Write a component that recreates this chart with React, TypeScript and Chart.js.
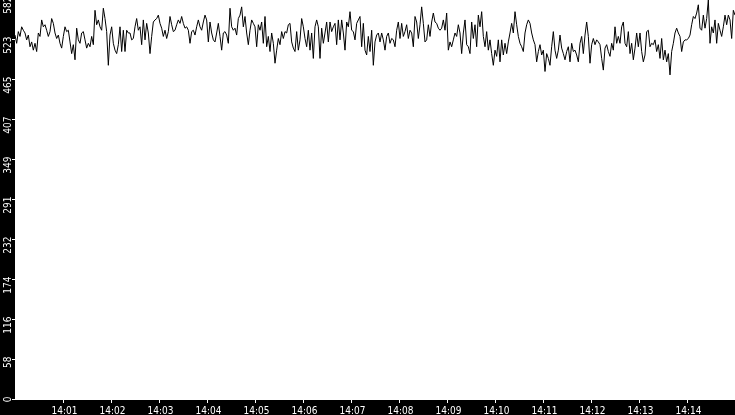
import { useEffect, useRef } from 'react';
import { Chart, registerables } from 'chart.js';
import type { ChartConfiguration, Plugin } from 'chart.js';

Chart.register(...registerables);

// samples, 14:00:00 -> 14:15:00, evenly spaced
const part1 = [531, 519, 536, 529, 543, 538, 534, 524, 531, 514, 521, 509, 519, 507, 534, 529, 553, 543, 546, 538, 529, 536, 555, 548, 534, 526, 531, 519, 512, 529, 543, 536, 538, 521, 504, 517, 495, 541, 524, 519, 534, 536, 524, 512, 519, 514, 529, 517, 567, 546, 553, 543, 538, 570, 555, 536, 487, 531, 543, 519, 509, 504, 517];
const part2 = [543, 507, 538, 507, 538, 534, 534, 524, 526, 543, 555, 538, 543, 517, 553, 524, 548, 534, 504, 529, 550, 553, 555, 560, 548, 541, 529, 538, 526, 536, 558, 546, 536, 538, 546, 553, 548, 558, 548, 541, 543, 538, 519, 536, 538, 531, 543, 553, 543, 538, 550, 560, 553, 521, 550, 534, 524, 521, 534, 548, 529, 509, 534];
const part3 = [536, 531, 519, 570, 543, 538, 541, 531, 555, 560, 572, 543, 558, 534, 517, 538, 553, 548, 543, 514, 546, 538, 550, 519, 558, 514, 529, 507, 534, 519, 490, 509, 526, 517, 536, 526, 536, 534, 546, 548, 521, 512, 507, 536, 509, 524, 555, 543, 526, 514, 538, 509, 534, 497, 543, 553, 543, 497, 541, 519, 534, 550, 521];
const part4 = [550, 536, 543, 548, 517, 553, 524, 553, 534, 509, 550, 543, 565, 538, 536, 524, 548, 553, 558, 514, 548, 509, 502, 529, 507, 538, 487, 521, 531, 534, 521, 534, 524, 509, 529, 534, 519, 526, 524, 514, 538, 550, 526, 548, 529, 536, 546, 526, 538, 534, 514, 558, 550, 526, 546, 572, 548, 521, 524, 546, 529, 550, 563];
const part5 = [550, 548, 541, 538, 541, 553, 538, 563, 509, 521, 514, 524, 534, 529, 546, 534, 504, 534, 553, 517, 514, 504, 550, 526, 546, 514, 560, 543, 565, 529, 514, 536, 509, 524, 504, 487, 509, 500, 524, 492, 524, 502, 519, 504, 521, 534, 548, 534, 565, 546, 529, 519, 514, 507, 534, 546, 553, 548, 534, 524, 517, 492, 507];
const part6 = [517, 502, 509, 478, 504, 497, 487, 514, 536, 509, 497, 509, 531, 512, 504, 495, 507, 514, 492, 519, 507, 509, 502, 492, 519, 529, 504, 531, 550, 529, 490, 517, 526, 517, 524, 521, 517, 497, 480, 512, 517, 507, 500, 519, 509, 543, 519, 529, 519, 543, 550, 519, 514, 536, 504, 519, 495, 512, 534, 514, 534, 507, 492];
const part7 = [502, 536, 538, 514, 519, 517, 524, 507, 517, 497, 526, 495, 509, 492, 504, 473, 507, 519, 534, 541, 534, 529, 507, 521, 524, 524, 526, 531, 546, 558, 555, 563, 575, 541, 538, 560, 541, 555, 582, 519, 543, 534, 553, 519, 548, 538, 529, 543, 560, 546, 560, 553, 526, 567, 560];

const samples = [...part1, ...part2, ...part3, ...part4, ...part5, ...part6, ...part7];
const spanSeconds = 900;
const stepSeconds = spanSeconds / (samples.length - 1);

const yTicks = [0, 58.2, 116.4, 174.6, 232.8, 291, 349.2, 407.4, 465.6, 523.8, 582];
const yTickLabels = ['0', '58', '116', '174', '232', '291', '349', '407', '465', '523', '582'];
const xTicks = [60, 120, 180, 240, 300, 360, 420, 480, 540, 600, 660, 720, 780, 840];
const xTickLabels = ['14:01', '14:02', '14:03', '14:04', '14:05', '14:06', '14:07', '14:08', '14:09', '14:10', '14:11', '14:12', '14:13', '14:14'];

const FONT = '10px "DejaVu Sans Condensed", "DejaVu Sans", sans-serif';

const frame: Plugin<'line'> = {
  id: 'frame',
  beforeDraw(chart) {
    const { ctx, chartArea: a, width, height } = chart;
    ctx.save();
    ctx.fillStyle = '#000';
    ctx.fillRect(0, 0, width, height);
    ctx.fillStyle = '#fff';
    ctx.fillRect(a.left, a.top, a.right - a.left, a.bottom - a.top);
    ctx.restore();
  },
  afterDraw(chart) {
    const { ctx, chartArea: a, scales } = chart;
    ctx.save();
    ctx.strokeStyle = '#fff';
    ctx.fillStyle = '#fff';
    ctx.lineWidth = 1;
    ctx.font = FONT;
    ctx.textBaseline = 'alphabetic';

    xTicks.forEach((t, i) => {
      const px = Math.round(scales.x.getPixelForValue(t)) + 0.5;
      ctx.beginPath();
      ctx.moveTo(px, a.bottom);
      ctx.lineTo(px, a.bottom + 3);
      ctx.stroke();
      ctx.textAlign = 'center';
      ctx.fillText(xTickLabels[i], px + 1, a.bottom + 14);
    });

    yTicks.forEach((t, i) => {
      const py = Math.round(scales.y.getPixelForValue(t)) - 0.5;
      ctx.beginPath();
      ctx.moveTo(a.left - 3, py);
      ctx.lineTo(a.left, py);
      ctx.stroke();
      ctx.save();
      ctx.translate(a.left - 4, py - 3);
      ctx.rotate(-Math.PI / 2);
      ctx.textAlign = 'right';
      ctx.fillText(yTickLabels[i], 0, 0);
      ctx.restore();
    });
    ctx.restore();
  },
};

export default function App() {
  const canvasRef = useRef<HTMLCanvasElement>(null);

  useEffect(() => {
    if (!canvasRef.current) return;

    const config: ChartConfiguration<'line'> = {
      type: 'line',
      data: {
        datasets: [
          {
            data: samples.map((v, i) => ({ x: i * stepSeconds, y: v })),
            borderColor: '#000',
            borderWidth: 1,
            pointRadius: 0,
            tension: 0,
            fill: false,
          },
        ],
      },
      options: {
        animation: false,
        responsive: false,
        maintainAspectRatio: false,
        layout: { padding: { left: 15, bottom: 15, top: 0, right: 0 } },
        plugins: {
          legend: { display: false },
          tooltip: { enabled: false },
        },
        scales: {
          x: { type: 'linear', display: false, min: 0, max: spanSeconds },
          y: { type: 'linear', display: false, min: 0, max: 582 },
        },
      },
      plugins: [frame],
    };

    const chart = new Chart(canvasRef.current, config);
    return () => chart.destroy();
  }, []);

  return (
    <div style={{ position: 'fixed', left: 0, top: 0, width: 735, height: 415, background: '#000' }}>
      <canvas ref={canvasRef} width={735} height={415} style={{ display: 'block' }} />
    </div>
  );
}
